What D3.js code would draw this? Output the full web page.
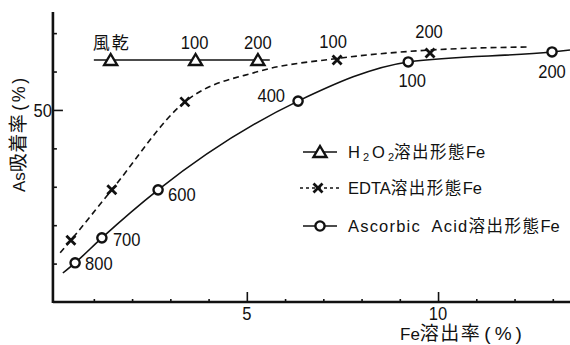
<!DOCTYPE html>
<html>
<head>
<meta charset="utf-8">
<script src="https://cdn.jsdelivr.net/npm/d3@7"></script>
<style>
  html, body { margin: 0; padding: 0; background: #fff; }
  svg { display: block; }
  text { font-family: "Liberation Sans", "Noto Sans CJK JP", sans-serif; fill: #111; }
</style>
</head>
<body>
<svg id="chart" width="570" height="345"></svg>
<script>
// Fe dissolution rate (%) vs As adsorption rate (%), three extraction forms of Fe
const xMajorTicks = [5, 10];
const xMinorTicks = [1, 2, 3, 4, 6, 7, 8, 9, 11, 12, 13];
const yMajorTicks = [50];
const yMinorTicks = [10, 20, 30, 40, 60, 70];

// H2O2-extractable Fe
const h2o2X = [1.44, 3.66, 5.29];
const h2o2Y = [63.0, 63.0, 63.0];
const h2o2Labels = ["風乾", "100", "200"];
const h2o2LineX = [1.0, 5.6];
const h2o2LineY = [63.0, 63.0];

// EDTA-extractable Fe
const edtaX = [0.40, 1.47, 3.38, 7.36, 9.79];
const edtaY = [16.1, 29.2, 52.1, 63.0, 64.8];
const edtaLabels = ["", "", "", "100", "200"];
const edtaCurveX = [0.12, 0.40, 1.47, 3.38, 5.3, 7.36, 9.79, 12.4];
const edtaCurveY = [12.8, 16.1, 29.2, 52.1, 60.0, 63.4, 65.6, 66.4];

// Ascorbic-acid-extractable Fe
const ascX = [0.51, 1.21, 2.68, 6.34, 9.22, 12.98];
const ascY = [10.2, 16.7, 29.2, 52.3, 62.5, 65.1];
const ascLabels = ["800", "700", "600", "400", "100", "200"];
const ascCurveX = [0.19, 0.51, 1.21, 2.68, 6.34, 9.22, 12.98, 13.45];
const ascCurveY = [7.55, 10.2, 16.7, 29.2, 52.3, 62.5, 65.1, 65.6];

const svg = d3.select("#chart");
const x = d3.scaleLinear().domain([0, 13.45]).range([55.6, 570]);
const y = d3.scaleLinear().domain([0, 75.5]).range([302, 12]);
const axisX = x(-0.07);

const line = d3.line().x(d => x(d[0])).y(d => y(d[1]));
const curve = d3.line().x(d => x(d[0])).y(d => y(d[1])).curve(d3.curveMonotoneX);

// numeric label in the narrow print face: tall digits squeezed to ~9px each
function num(sel, s) {
  sel.attr("font-size", 19).attr("lengthAdjust", "spacingAndGlyphs")
    .attr("textLength", s.length * 9.2).text(s);
}

// text built from runs with their own size / spacing
function runs(t, parts) {
  parts.forEach(p => {
    const s = t.append("tspan").text(p.text);
    if (p.size) s.attr("font-size", p.size);
    if (p.dy) s.attr("dy", p.dy);
    if (p.dx) s.attr("dx", p.dx);
    if (p.spacing) s.attr("letter-spacing", p.spacing);
  });
  return t;
}

// axes
const xAxis = svg.append("g").attr("transform", `translate(0,${y(0)})`)
  .call(d3.axisTop(x).tickValues(xMajorTicks).tickSize(10).tickFormat(""));
xAxis.append("g").call(d3.axisTop(x).tickValues(xMinorTicks).tickSize(3).tickFormat(""));
xAxis.selectAll(".domain").remove();
xAxis.selectAll("line").attr("stroke", "#111").attr("stroke-width", 1.6);
svg.append("line").attr("x1", axisX).attr("x2", 570).attr("y1", y(0)).attr("y2", y(0))
  .attr("stroke", "#111").attr("stroke-width", 2.4);
svg.selectAll(".xlab").data(xMajorTicks).join("text")
  .attr("x", d => x(d)).attr("y", 320).attr("text-anchor", "middle")
  .each(function (d) { num(d3.select(this), String(d)); });

const yAxis = svg.append("g").attr("transform", `translate(${axisX},0)`)
  .call(d3.axisRight(y).tickValues(yMajorTicks).tickSize(10).tickFormat(""));
yAxis.append("g").call(d3.axisRight(y).tickValues(yMinorTicks).tickSize(4).tickFormat(""));
yAxis.selectAll(".domain").remove();
yAxis.selectAll("line").attr("stroke", "#111").attr("stroke-width", 1.6);
svg.append("line").attr("x1", axisX).attr("x2", axisX).attr("y1", 12).attr("y2", y(0) + 1)
  .attr("stroke", "#111").attr("stroke-width", 2.6);
svg.selectAll(".ylab").data(yMajorTicks).join("text")
  .attr("x", axisX - 1).attr("y", d => y(d) + 7).attr("text-anchor", "end")
  .each(function (d) { num(d3.select(this), String(d)); });

// axis titles
runs(svg.append("text").attr("transform", "translate(25,192) rotate(-90)")
  .attr("font-size", 17).attr("xml:space", "preserve"), [
  { text: "As" },
  { text: "吸着率", size: 19, spacing: 0.5 },
  { text: "(%)", size: 18, spacing: 2.5, dx: 3 }
]);
runs(svg.append("text").attr("x", 400).attr("y", 340)
  .attr("font-size", 17).attr("xml:space", "preserve"), [
  { text: "Fe" },
  { text: "溶出率", size: 19, spacing: 1.5 },
  { text: "(%)", size: 19, spacing: 4, dx: 3 }
]);

// series lines
svg.append("path").datum(d3.zip(h2o2LineX, h2o2LineY)).attr("d", line)
  .attr("fill", "none").attr("stroke", "#111").attr("stroke-width", 1.6);
svg.append("path").datum(d3.zip(edtaCurveX, edtaCurveY)).attr("d", curve)
  .attr("fill", "none").attr("stroke", "#111").attr("stroke-width", 1.6)
  .attr("stroke-dasharray", "6,4");
svg.append("path").datum(d3.zip(ascCurveX, ascCurveY)).attr("d", curve)
  .attr("fill", "none").attr("stroke", "#111").attr("stroke-width", 1.6);

// marker shapes
function triangle(g) {
  g.append("path").attr("d", "M0,-6 L6.5,5 L-6.5,5 Z")
    .attr("fill", "#fff").attr("stroke", "#111").attr("stroke-width", 2.4)
    .attr("stroke-linejoin", "miter");
}
function cross(g) {
  g.append("path").attr("d", "M-4.5,-4.5 L4.5,4.5 M-4.5,4.5 L4.5,-4.5")
    .attr("stroke", "#111").attr("stroke-width", 2.8);
}
function ring(g) {
  g.append("circle").attr("r", 4.6)
    .attr("fill", "#fff").attr("stroke", "#111").attr("stroke-width", 2.4);
}

svg.selectAll(".tri").data(d3.zip(h2o2X, h2o2Y)).join("g")
  .attr("transform", d => `translate(${x(d[0])},${y(d[1])})`).each(function () { triangle(d3.select(this)); });
svg.selectAll(".crs").data(d3.zip(edtaX, edtaY)).join("g")
  .attr("transform", d => `translate(${x(d[0])},${y(d[1])})`).each(function () { cross(d3.select(this)); });
svg.selectAll(".rng").data(d3.zip(ascX, ascY)).join("g")
  .attr("transform", d => `translate(${x(d[0])},${y(d[1])})`).each(function () { ring(d3.select(this)); });

// point labels (offsets relative to each marker)
function pointLabels(cls, xs, ys, labels, offs, anchors) {
  svg.selectAll("." + cls).data(d3.zip(xs, ys, labels, offs, anchors)).join("text")
    .attr("class", cls)
    .attr("x", d => x(d[0]) + d[3][0]).attr("y", d => y(d[1]) + d[3][1])
    .attr("text-anchor", d => d[4])
    .each(function (d) {
      const t = d3.select(this);
      if (/^\d+$/.test(d[2])) num(t, d[2]);
      else t.attr("font-size", 17).attr("textLength", 36).text(d[2]);
    });
}
pointLabels("h2l", h2o2X, h2o2Y, h2o2Labels,
  [[0, -11], [-1, -11], [0, -11]], ["middle", "middle", "middle"]);
pointLabels("edl", edtaX, edtaY, edtaLabels,
  [[0, 0], [0, 0], [0, 0], [-4, -12], [-1, -15]], ["middle", "middle", "middle", "middle", "middle"]);
pointLabels("asl", ascX, ascY, ascLabels,
  [[10, 7], [11, 8], [10, 11], [-13, 1], [4, 25], [0, 26]],
  ["start", "start", "start", "end", "middle", "middle"]);

// legend
const legY = [152, 188, 226];
const lg = svg.append("g");
lg.append("line").attr("x1", 303).attr("x2", 337).attr("y1", legY[0]).attr("y2", legY[0])
  .attr("stroke", "#111").attr("stroke-width", 1.6);
triangle(lg.append("g").attr("transform", `translate(320,${legY[0]})`));
lg.append("line").attr("x1", 300).attr("x2", 342).attr("y1", legY[1]).attr("y2", legY[1])
  .attr("stroke", "#111").attr("stroke-width", 1.4).attr("stroke-dasharray", "3,3");
cross(lg.append("g").attr("transform", `translate(318,${legY[1]})`));
lg.append("line").attr("x1", 303).attr("x2", 337).attr("y1", legY[2]).attr("y2", legY[2])
  .attr("stroke", "#111").attr("stroke-width", 1.6);
ring(lg.append("g").attr("transform", `translate(320,${legY[2]})`));

// each entry: latin prefix, CJK body, trailing "Fe"
function legendText(row, parts) {
  runs(lg.append("text").attr("x", 348).attr("y", legY[row] + 6)
    .attr("font-size", 16.5).attr("xml:space", "preserve"), parts);
}
legendText(0, [
  { text: "H" },
  { text: "2", size: 11, dy: 3, dx: 3 },
  { text: "O", dy: -3, dx: 3 },
  { text: "2", size: 11, dy: 3, dx: 3 },
  { text: "溶出形態", dy: -3, spacing: 1.5 },
  { text: "Fe" }
]);
legendText(1, [
  { text: "EDTA" },
  { text: "溶出形態", spacing: 1.5 },
  { text: "Fe" }
]);
legendText(2, [
  { text: "Ascorbic  Acid", spacing: 1.2 },
  { text: "溶出形態", spacing: 1.5 },
  { text: "Fe" }
]);
</script>
</body>
</html>
